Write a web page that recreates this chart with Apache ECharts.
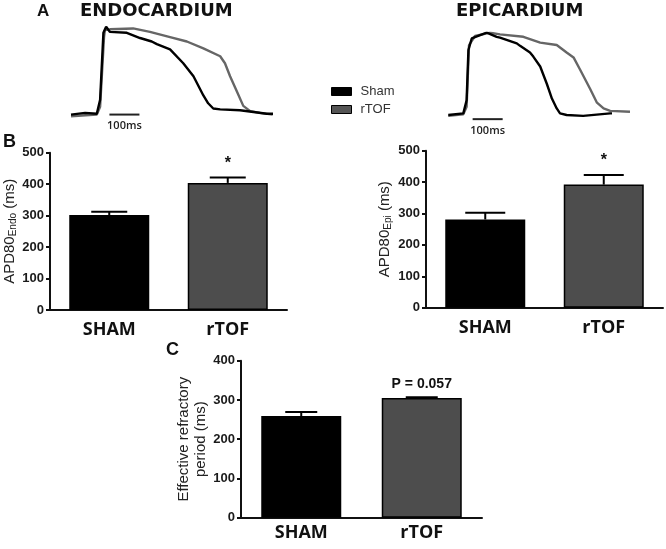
<!DOCTYPE html>
<html>
<head>
<meta charset="utf-8">
<script src="https://cdn.jsdelivr.net/npm/echarts@6/dist/echarts.min.js"></script>
<style>
  html, body { margin: 0; padding: 0; background: #fff; }
  #chart { width: 666px; height: 549px; }
</style>
</head>
<body>
<div id="chart"></div>
<script>
// panel A: action potential traces, time in ms, amplitude normalised 0-100
const endoShamT = [0, 47, 86, 97, 108, 117, 130, 186, 230, 269, 286, 330, 374, 408, 441, 457, 474, 497, 563, 608, 652, 673]
const endoShamV = [-1, 1, 0, 16, 93, 100, 94, 93, 87, 83, 80, 74, 58, 43, 21, 12, 6, 5, 4, 2, 0, 0]
const endoRtofT = [0, 86, 97, 110, 113, 130, 207, 263, 330, 386, 441, 497, 513, 530, 552, 574, 597, 630, 672]
const endoRtofV = [-3, -1, 8, 88, 96, 97, 98, 94, 88, 83, 75, 66, 58, 43, 26, 9, 3, 1, -1]
const epiShamT = [0, 50, 61, 67, 78, 106, 128, 161, 172, 228, 239, 272, 283, 306, 328, 345, 361, 372, 394, 449, 539, 545]
const epiShamV = [0, 2, 18, 79, 93, 97, 100, 95, 94, 87, 84, 76, 71, 59, 38, 20, 8, 2, 0, -1, 2, 2]
const epiRtofT = [0, 50, 61, 69, 89, 139, 172, 250, 306, 361, 394, 417, 439, 472, 495, 517, 539, 605]
const epiRtofV = [-1, 1, 10, 85, 96, 100, 98, 95, 88, 85, 76, 70, 55, 32, 15, 8, 5, 4]
const endoScaleBar = [128, 228, -1]
const epiScaleBar = [81, 181, -5]

// panels B and C: bars
const groups = ['SHAM', 'rTOF']
const apdEndo = [302, 404]
const apdEndoErr = [10, 17]
const apdEndoMarks = ['', '*']
const apdEpi = [281, 392]
const apdEpiErr = [21, 31]
const apdEpiMarks = ['', '*']
const erp = [259, 305]
const erpErr = [10, 2]
const erpMarks = ['', 'P = 0.057']

const barColors = ['#000000', '#4d4d4d']
const traceColors = { Sham: '#000000', rTOF: '#666666' }

const zip = (t, v) => t.map((x, i) => [x, v[i]])

const tickFont = { fontFamily: 'Liberation Sans', fontWeight: 'bold', fontSize: 13, color: '#1a1a1a' }
const catFont = { fontFamily: 'Open Sans', fontWeight: 'bold', fontSize: 18, color: '#111' }

const traceSeries = (name, data, idx, z) => ({
  name: name,
  type: 'line',
  xAxisIndex: idx,
  yAxisIndex: idx,
  data: data,
  showSymbol: false,
  z: z,
  lineStyle: { width: 2.4, color: traceColors[name] },
  itemStyle: { color: traceColors[name] }
})

const scaleBar = (bar, idx) => ({
  type: 'custom',
  xAxisIndex: idx,
  yAxisIndex: idx,
  data: [bar],
  z: 5,
  renderItem: (params, api) => {
    const a = api.coord([api.value(0), api.value(2)])
    const b = api.coord([api.value(1), api.value(2)])
    return {
      type: 'group',
      children: [
        { type: 'line', shape: { x1: a[0], y1: a[1], x2: b[0], y2: b[1] }, style: { stroke: '#222', lineWidth: 2 } },
        { type: 'text', x: (a[0] + b[0]) / 2, y: a[1] + 6,
          style: { text: '100ms', textAlign: 'center', textVerticalAlign: 'top',
            font: '600 11px "Open Sans"', fill: '#222' } }
      ]
    }
  }
})

const barSeries = (vals, idx) => ({
  type: 'bar',
  xAxisIndex: idx,
  yAxisIndex: idx,
  barWidth: 80,
  data: vals.map((v, i) => ({
    value: v,
    itemStyle: { color: barColors[i], borderColor: '#000', borderWidth: 1.5 }
  }))
})

const errSeries = (vals, errs, marks, idx, capHalf) => ({
  type: 'custom',
  xAxisIndex: idx,
  yAxisIndex: idx,
  z: 4,
  data: vals.map((v, i) => [i, v, errs[i]]),
  renderItem: (params, api) => {
    const i = api.value(0)
    const top = api.coord([i, api.value(1)])
    const hi = api.coord([i, api.value(1) + api.value(2)])
    const mark = marks[params.dataIndex]
    return {
      type: 'group',
      children: [
        { type: 'line', shape: { x1: top[0], y1: top[1], x2: hi[0], y2: hi[1] }, style: { stroke: '#000', lineWidth: 2 } },
        { type: 'line', shape: { x1: hi[0] - capHalf, y1: hi[1], x2: hi[0] + capHalf, y2: hi[1] }, style: { stroke: '#000', lineWidth: 2 } },
        { type: 'text', x: hi[0], y: hi[1] - 6,
          style: { text: mark, textAlign: 'center', textVerticalAlign: 'bottom',
            font: mark === '*' ? 'bold 16px "Liberation Sans"' : 'bold 14px "Liberation Sans"', fill: '#111' } }
      ]
    }
  }
})

const catAxis = (idx, margin) => ({
  type: 'category',
  gridIndex: idx,
  data: groups,
  axisLine: { lineStyle: { color: '#111', width: 2 } },
  axisTick: { alignWithLabel: true, length: 4, lineStyle: { color: '#111', width: 1.5 } },
  axisLabel: Object.assign({ margin: margin }, catFont)
})

const valAxis = (idx, max, name, gap) => ({
  type: 'value',
  gridIndex: idx,
  min: 0,
  max: max,
  interval: 100,
  splitLine: { show: false },
  axisLine: { show: true, lineStyle: { color: '#111', width: 2 } },
  axisTick: { show: true, length: 4, lineStyle: { color: '#111', width: 2 } },
  axisLabel: Object.assign({ margin: 6 }, tickFont),
  name: name,
  nameLocation: 'middle',
  nameRotate: 90,
  nameGap: gap,
  nameTextStyle: {
    fontFamily: 'Liberation Sans', fontSize: 15, color: '#222', lineHeight: 17,
    rich: {
      m: { fontFamily: 'Liberation Sans', fontSize: 15, color: '#222', lineHeight: 17 },
      s: { fontFamily: 'Liberation Sans', fontSize: 10, color: '#222', lineHeight: 17, verticalAlign: 'bottom', padding: [6, 0, 0, 0] }
    }
  }
})

const hiddenAxis = (idx, min, max) => ({
  type: 'value', gridIndex: idx, min: min, max: max, show: false,
  splitLine: { show: false }
})

const option = {
  animation: false,
  backgroundColor: '#fff',
  grid: [
    { left: 71, top: 26.7, width: 202, height: 104.4 },
    { left: 448.3, top: 32.7, width: 182, height: 98.8 },
    { left: 50, top: 152.7, width: 237, height: 157.3 },
    { left: 426, top: 150.7, width: 237, height: 157 },
    { left: 241, top: 360.7, width: 241, height: 157 }
  ],
  xAxis: [
    hiddenAxis(0, 0, 673),
    hiddenAxis(1, 0, 606),
    catAxis(2, 11),
    catAxis(3, 11),
    catAxis(4, 6)
  ],
  yAxis: [
    hiddenAxis(0, -20, 100),
    hiddenAxis(1, -20, 100),
    valAxis(2, 500, '{m|APD80}{s|Endo}{m| (ms)}', 31),
    valAxis(3, 500, '{m|APD80}{s|Epi}{m| (ms)}', 33),
    valAxis(4, 400, '{m|Effective refractory}\n{m|period (ms)}', 28)
  ],
  legend: {
    orient: 'vertical',
    left: 326,
    top: 80,
    itemWidth: 20,
    itemHeight: 8,
    itemGap: 5,
    icon: 'rect',
    textStyle: { fontFamily: 'Liberation Sans', fontSize: 13, color: '#333', padding: [0, 0, 0, 4] },
    data: [
      { name: 'Sham', itemStyle: { color: '#000', borderColor: '#000', borderWidth: 1 } },
      { name: 'rTOF', itemStyle: { color: '#555', borderColor: '#000', borderWidth: 1 } }
    ]
  },
  graphic: [
    { type: 'text', left: 37, top: 3, style: { text: 'A', font: 'bold 17px "Liberation Sans"', fill: '#111' } },
    { type: 'text', left: 80, top: 2, style: { text: 'ENDOCARDIUM', font: 'bold 18px "DejaVu Sans"', fill: '#111' } },
    { type: 'text', left: 456, top: 2, style: { text: 'EPICARDIUM', font: 'bold 18px "DejaVu Sans"', fill: '#111' } },
    { type: 'text', left: 3, top: 133, style: { text: 'B', font: 'bold 18px "Liberation Sans"', fill: '#111' } },
    { type: 'text', left: 166, top: 341, style: { text: 'C', font: 'bold 18px "Liberation Sans"', fill: '#111' } }
  ],
  series: [
    traceSeries('rTOF', zip(endoRtofT, endoRtofV), 0, 2),
    traceSeries('Sham', zip(endoShamT, endoShamV), 0, 3),
    traceSeries('rTOF', zip(epiRtofT, epiRtofV), 1, 2),
    traceSeries('Sham', zip(epiShamT, epiShamV), 1, 3),
    scaleBar(endoScaleBar, 0),
    scaleBar(epiScaleBar, 1),
    barSeries(apdEndo, 2),
    errSeries(apdEndo, apdEndoErr, apdEndoMarks, 2, 18),
    barSeries(apdEpi, 3),
    errSeries(apdEpi, apdEpiErr, apdEpiMarks, 3, 20),
    barSeries(erp, 4),
    errSeries(erp, erpErr, erpMarks, 4, 16)
  ]
}

const chart = echarts.init(document.getElementById('chart'), null, { renderer: 'canvas' })
chart.setOption(option)
</script>
</body>
</html>
